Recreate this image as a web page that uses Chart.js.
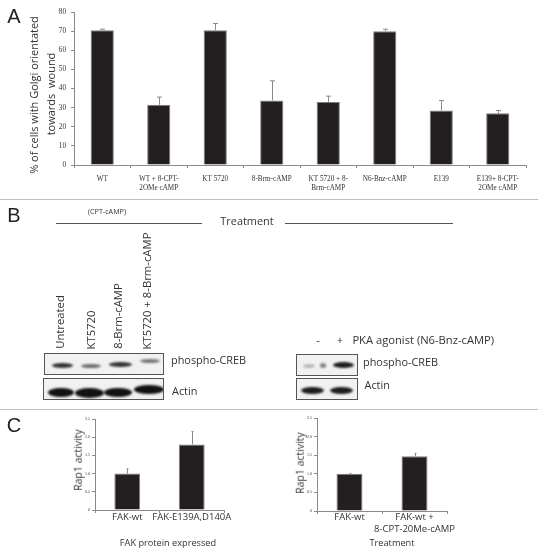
<!DOCTYPE html>
<html>
<head>
<meta charset="utf-8">
<title>Golgi orientation and Rap1 activity</title>
<script src="https://cdn.jsdelivr.net/npm/chart.js@4"></script>
<style>
  html, body { margin: 0; padding: 0; background: #fff; }
  #page { position: relative; width: 538px; height: 559px; overflow: hidden; font-family: "Open Sans", sans-serif; color: #333; filter: blur(0.35px); }
  #page canvas { position: absolute; }
  .txt { position: absolute; white-space: pre; line-height: 1; }
  .center { transform: translate(-50%, -50%); }
  .rot { transform: translate(-50%, -50%) rotate(-90deg); text-align: center; }
  .panel { font-family: "Liberation Sans", sans-serif; font-size: 20px; color: #222; }
  .rule { position: absolute; height: 1px; }
  .blot { position: absolute; background: #f1f1f1; border: 1px solid #555; box-sizing: border-box; overflow: hidden; }
  .band { position: absolute; background: #111; border-radius: 50%; filter: blur(1.2px); }
</style>
</head>
<body>
<div id="page">
  <canvas id="chartA" style="left:0;top:0"></canvas>
  <canvas id="chartC1" style="left:0;top:410px"></canvas>
  <canvas id="chartC2" style="left:270px;top:410px"></canvas>
</div>
<script>
// Panel A
const golgiLabels = ['WT', ['WT + 8-CPT-', '2OMe cAMP'], 'KT 5720', '8-Brm-cAMP', ['KT 5720 + 8-', 'Brm-cAMP'], 'N6-Bnz-cAMP', 'E139', ['E139+ 8-CPT-', '2OMe cAMP']];
const golgiValues = [70.5, 31.5, 70.5, 33.7, 33, 70, 28.5, 27];
const golgiErrorTops = [71, 35.5, 74, 44, 36, 71, 33.7, 28.5];

// Panel C, left
const fakLabels = ['FAK-wt', 'FAK-E139A,D140A'];
const fakValues = [1, 1.8];
const fakErrorTops = [1.13, 2.16];

// Panel C, right
const treatLabels = ['FAK-wt', ['FAK-wt +', '8-CPT-20Me-cAMP']];
const treatValues = [1, 1.47];
const treatErrorTops = [1.01, 1.55];

// Error bars, upper side only
const errorBars = {
    id: 'errorBars',
    afterDatasetsDraw(chart, args, opts) {
        const ctx = chart.ctx;
        const meta = chart.getDatasetMeta(0);
        ctx.save();
        ctx.strokeStyle = '#8a8a8a';
        ctx.lineWidth = 1;
        meta.data.forEach((bar, i) => {
            const yTop = chart.scales.y.getPixelForValue(opts.tops[i]);
            const x = Math.round(bar.x) + 0.5;
            ctx.beginPath();
            ctx.moveTo(x, bar.y);
            ctx.lineTo(x, yTop);
            ctx.moveTo(x - opts.cap, yTop);
            ctx.lineTo(x + opts.cap, yTop);
            ctx.stroke();
        });
        ctx.restore();
    }
};

function makeBars(id, cfg) {
    const canvas = document.getElementById(id);
    canvas.width = cfg.width;
    canvas.height = cfg.height;
    canvas.style.width = cfg.width + 'px';
    canvas.style.height = cfg.height + 'px';
    return new Chart(canvas.getContext('2d'), {
        type: 'bar',
        data: {
            labels: cfg.labels,
            datasets: [{
                data: cfg.values,
                backgroundColor: '#231f20',
                borderColor: '#7d7d7d',
                borderWidth: 1,
                barPercentage: cfg.barPct,
                categoryPercentage: 1
            }]
        },
        plugins: [errorBars],
        options: {
            responsive: false,
            animation: false,
            layout: { padding: cfg.padding },
            plugins: {
                legend: { display: false },
                tooltip: { enabled: false },
                errorBars: { tops: cfg.tops, cap: cfg.cap }
            },
            scales: {
                x: {
                    afterFit: (scale) => { scale.height = cfg.xHeight; },
                    border: { color: '#8a8a8a' },
                    grid: { offset: true, drawOnChartArea: false, color: '#8a8a8a', tickLength: 3 },
                    ticks: {
                        autoSkip: false,
                        maxRotation: 0,
                        padding: cfg.xPad,
                        color: cfg.xColor,
                        font: cfg.xFont
                    }
                },
                y: {
                    min: 0,
                    max: cfg.yMax,
                    afterFit: (scale) => { scale.width = cfg.yWidth; },
                    border: { color: '#8a8a8a' },
                    grid: { drawOnChartArea: false, color: '#8a8a8a', tickLength: 3 },
                    ticks: {
                        stepSize: cfg.yStep,
                        padding: cfg.yPad,
                        color: '#333',
                        font: cfg.yFont
                    }
                }
            }
        }
    });
}

const serifSmall = { family: '"Liberation Serif", serif', size: 7.2, lineHeight: 1.35 };
const sansLabel = { family: '"Open Sans", sans-serif', size: 9.5, lineHeight: 1.3 };

makeBars('chartA', {
    width: 538, height: 198,
    labels: golgiLabels, values: golgiValues, tops: golgiErrorTops,
    yMax: 80, yStep: 10, barPct: 0.41, cap: 2.5,
    padding: { left: 0, right: 12, top: 12, bottom: 0 },
    xHeight: 33, yWidth: 74, xPad: 6, yPad: 5,
    xColor: '#333', xFont: serifSmall, yFont: serifSmall
});

const tinyTick = { family: '"Liberation Serif", serif', size: 4 };

makeBars('chartC1', {
    width: 270, height: 140,
    labels: fakLabels, values: fakValues, tops: fakErrorTops,
    yMax: 2.5, yStep: 0.5, barPct: 0.4, cap: 1,
    padding: { left: 0, right: 46, top: 9, bottom: 0 },
    xHeight: 40, yWidth: 95, xPad: -2, yPad: 2,
    xColor: '#333', xFont: sansLabel, yFont: tinyTick
});

makeBars('chartC2', {
    width: 268, height: 140,
    labels: treatLabels, values: treatValues, tops: treatErrorTops,
    yMax: 2.5, yStep: 0.5, barPct: 0.4, cap: 1,
    padding: { left: 0, right: 91, top: 8, bottom: 0 },
    xHeight: 39, yWidth: 47, xPad: -3, yPad: 2,
    xColor: '#333', xFont: sansLabel, yFont: tinyTick
});

// Text, rules and blots around the charts
const page = document.getElementById('page');

function addText(text, x, y, size, cls) {
    const el = document.createElement('div');
    el.className = 'txt ' + (cls || '');
    el.textContent = text;
    el.style.left = x + 'px';
    el.style.top = y + 'px';
    el.style.fontSize = size + 'px';
    page.appendChild(el);
    return el;
}

function addRule(x1, x2, y, color) {
    const el = document.createElement('div');
    el.className = 'rule';
    el.style.left = x1 + 'px';
    el.style.width = (x2 - x1) + 'px';
    el.style.top = y + 'px';
    el.style.background = color;
    page.appendChild(el);
}

function addBlot(x, y, w, h, bands) {
    const el = document.createElement('div');
    el.className = 'blot';
    el.style.cssText = `left:${x}px;top:${y}px;width:${w}px;height:${h}px`;
    bands.forEach(b => {
        const band = document.createElement('div');
        band.className = 'band';
        band.style.cssText = `left:${b[0]}px;top:${b[1]}px;width:${b[2]}px;height:${b[3]}px;opacity:${b[4]}`;
        el.appendChild(band);
    });
    page.appendChild(el);
}

addRule(0, 538, 199, '#bdbdbd');
addRule(0, 538, 409, '#bdbdbd');
addRule(56, 202, 223, '#555');
addRule(285, 453, 223, '#555');

addText('A', 14, 16, 20, 'center panel');
addText('B', 14, 215, 20, 'center panel');
addText('C', 14, 425, 20, 'center panel');

addText('% of cells with Golgi orientated', 33, 95, 11, 'rot');
addText('towards  wound', 50, 94, 11, 'rot');

addText('(CPT-cAMP)', 107, 212, 7.2, 'center');
addText('Treatment', 247, 221, 10.9, 'center');

addText('Untreated', 60, 322, 11.3, 'rot');
addText('KT5720', 90.5, 330, 11.3, 'rot');
addText('8-Brm-cAMP', 117.5, 315.5, 11.3, 'rot');
addText('KT5720 + 8-Brm-cAMP', 147, 291, 11.3, 'rot');

addText('-', 318, 340, 11.2, 'center');
addText('+', 340, 340, 11.2, 'center');
addText('PKA agonist (N6-Bnz-cAMP)', 352.4, 334, 11.2);

addText('phospho-CREB', 171, 355, 10.9);
addText('Actin', 172, 386, 10.9);
addText('phospho-CREB', 363, 357, 10.9);
addText('Actin', 364.5, 380, 10.9);

addBlot(44, 353, 120, 22, [
    [7, 9, 21, 5, 0.85], [36, 10, 20, 4, 0.6], [64, 8, 23, 5, 0.85], [95, 5, 20, 4, 0.55]
]);
addBlot(43, 378, 121, 22, [
    [4, 9, 26, 9, 1], [31, 9, 29, 10, 1], [60, 9, 28, 9, 1], [90, 6, 30, 9, 1]
]);
addBlot(296, 354, 62, 22, [
    [6, 9, 12, 4, 0.25], [23, 8, 6, 5, 0.5], [36, 7, 21, 6, 0.95]
]);
addBlot(296, 378, 62, 22, [
    [4, 8, 23, 7, 0.95], [33, 8, 23, 7, 0.95]
]);

addText('Rap1 activity', 78, 460, 10.5, 'rot');
addText('FAK protein expressed', 168, 543, 9.2, 'center');
addText('Rap1 activity', 300, 463, 10.5, 'rot');
addText('Treatment', 392, 543, 9.2, 'center');
</script>
</body>
</html>
